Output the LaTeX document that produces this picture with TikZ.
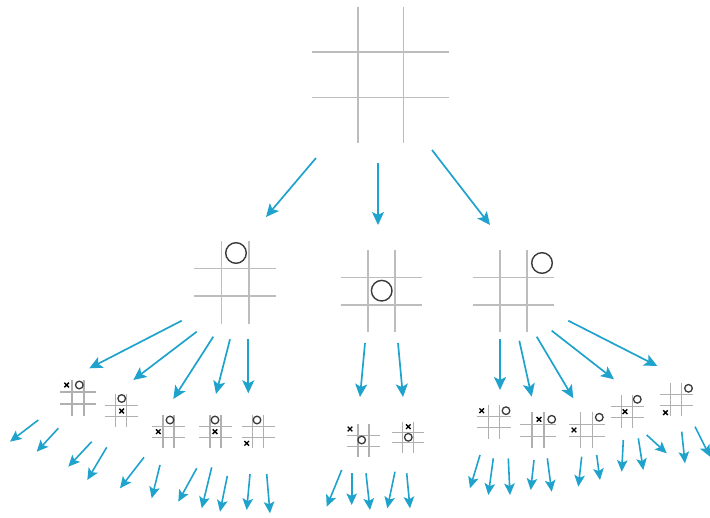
\documentclass[tikz,border=0pt]{standalone}
\usetikzlibrary{arrows.meta}
\definecolor{arrcol}{HTML}{1FA3CC}
\definecolor{gridcol}{HTML}{BDBDBD}
\definecolor{smallgridcol}{HTML}{B0B0B0}
\definecolor{markcol}{HTML}{3A3A3A}
\tikzset{
  arrbig/.style={draw=arrcol, line width=1.7pt, -{Stealth[length=13pt,width=12pt,inset=3pt]}},
  arrsmall/.style={draw=arrcol, line width=1.6pt, -{Stealth[length=11.5pt,width=10.5pt,inset=2.5pt]}},
  gridbig/.style={draw=gridcol, line width=1.5pt},
  gridsmall/.style={draw=smallgridcol, line width=1.2pt},
  obig/.style={draw=markcol, line width=1.4pt},
  osmall/.style={draw=markcol, line width=1.3pt},
  xsmall/.style={draw=black, line width=1.4pt},
}
% board: centre x, centre y, cell, style
\newcommand\drawtttboard[4]{%
  \draw[#4] (#1-0.5*#3,#2-1.5*#3) -- (#1-0.5*#3,#2+1.5*#3);
  \draw[#4] (#1+0.5*#3,#2-1.5*#3) -- (#1+0.5*#3,#2+1.5*#3);
  \draw[#4] (#1-1.5*#3,#2-0.5*#3) -- (#1+1.5*#3,#2-0.5*#3);
  \draw[#4] (#1-1.5*#3,#2+0.5*#3) -- (#1+1.5*#3,#2+0.5*#3);
}
\newcommand\smallO[2]{\draw[osmall] (#1,#2) circle (3.8);}
\newcommand\smallX[2]{\draw[xsmall] (#1-2.3,#2-2.3) -- (#1+2.3,#2+2.3) (#1-2.3,#2+2.3) -- (#1+2.3,#2-2.3);}
\begin{document}
\begin{tikzpicture}[x=1pt,y=-1pt]
\useasboundingbox (0,0) rectangle (710,518);
% top board
\drawtttboard{380.5}{75}{45.5}{gridbig}
% level 1 boards
\drawtttboard{235}{282.5}{27.5}{gridbig}
\draw[obig] (236,253) circle (10.3);
\drawtttboard{381.5}{291.3}{27.3}{gridbig}
\draw[obig] (381.7,290.7) circle (10.3);
\drawtttboard{513.5}{291.3}{27.3}{gridbig}
\draw[obig] (542,263) circle (10.3);
% level 2 boards
\drawtttboard{78}{398}{12}{gridsmall}   \smallX{66.7}{385}   \smallO{79.3}{385}
\drawtttboard{121}{411}{11}{gridsmall}  \smallX{121.7}{411}  \smallO{121.7}{398.5}
\drawtttboard{168.5}{432}{11}{gridsmall} \smallX{158.3}{431.7} \smallO{170}{420}
\drawtttboard{215.5}{432}{11}{gridsmall} \smallX{215}{431.7}  \smallO{215}{420}
\drawtttboard{258}{432}{11}{gridsmall}  \smallX{246.7}{443.3} \smallO{257}{420}
\drawtttboard{363.5}{441}{11}{gridsmall} \smallX{350}{429}   \smallO{361.7}{440}
\drawtttboard{408}{437.5}{10.5}{gridsmall} \smallX{408.3}{426.7} \smallO{408.3}{437.3}
\drawtttboard{494}{422}{11.5}{gridsmall} \smallX{481.7}{410.7} \smallO{506}{410.7}
\drawtttboard{538}{430.5}{12}{gridsmall} \smallX{539}{419.3}  \smallO{551.7}{419.3}
\drawtttboard{586.5}{430.5}{12}{gridsmall} \smallX{574}{430}  \smallO{599.3}{417.3}
\drawtttboard{627}{412}{11}{gridsmall}  \smallX{625}{411.7}  \smallO{637.3}{399.3}
\drawtttboard{676}{400}{11}{gridsmall}  \smallX{665.5}{412.7} \smallO{688.5}{388.3}
% arrows: top level
\foreach[count=\i] \ax/\ay/\bx/\by in {316/158/266/217, 378/163/378/225, 432/150/490/225}{
  \coordinate (ta\i) at (\ax,\ay); \coordinate (tb\i) at (\bx,\by);
  \draw[arrbig] (ta\i) -- (tb\i);
}
% arrows: second level
\foreach[count=\i] \ax/\ay/\bx/\by in {
  181.7/320.7/89.3/368.3, 196.7/331.7/133.3/380, 213.3/336.7/173.3/399, 230/339.3/216/394, 248.3/339.3/248.3/393.3,
  365/343/360/397, 398/343/403/397,
  500/339.3/500/390, 519.3/340.7/531.7/396.7, 536.7/336.7/573.3/398.3, 551.7/330.7/614/379.3, 568.3/320.7/657.3/366}{
  \coordinate (ma\i) at (\ax,\ay); \coordinate (mb\i) at (\bx,\by);
  \draw[arrbig] (ma\i) -- (mb\i);
}
% arrows: third level
\foreach[count=\i] \ax/\ay/\bx/\by in {
  38.3/420/10/441.7, 58.3/428.3/36.7/451.7,
  91.7/441.7/68.3/466.7, 106.7/447.3/87.3/480,
  144/457.3/120/488.3, 160/465/151.7/498.3,
  196.7/468.3/178.3/501.7, 211.7/467.3/201.7/508.3, 227.3/476/220/511.7,
  250/474/246.7/510, 266.7/474/270/513.3,
  341.7/470/326.7/506.7, 351.7/473.3/351.7/505, 366/473.3/370/510, 395/471.7/387.3/508.3, 406.7/473.3/410/508.3,
  480/455/470/488.3, 493.3/458.3/488.3/495, 508.3/458.3/510/495,
  534/460/530.7/490, 547.3/458.3/551.7/491.7,
  581.7/456.7/578.3/486.7, 596.7/455/600/480,
  623.3/440/621.7/471.7, 638.3/438.3/643.3/470, 646.7/435/666.7/453.3,
  681.7/431.7/685/463.3, 695/426.7/710/456.7}{
  \coordinate (ba\i) at (\ax,\ay); \coordinate (bb\i) at (\bx,\by);
  \draw[arrsmall] (ba\i) -- (bb\i);
}
\end{tikzpicture}
\end{document}
